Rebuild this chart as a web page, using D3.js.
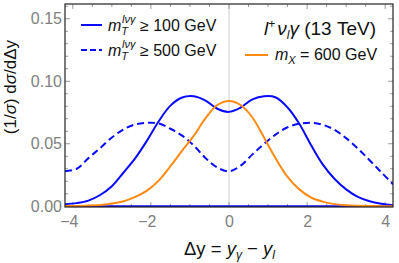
<!DOCTYPE html>
<html>
<head>
<meta charset="utf-8">
<script src="https://cdn.jsdelivr.net/npm/d3@7"></script>
<style>
  body { margin: 0; background: #fff; }
  svg { display: block; font-family: "Liberation Sans", Arial, sans-serif; }
</style>
</head>
<body>
<div class="container"></div>
<script>
// rapidity difference grid and the three normalised distributions
const dy = [-4.2, -3.9, -3.6, -3.3, -3.0, -2.7, -2.4, -2.1, -1.8, -1.5, -1.2, -0.9, -0.6, -0.3,
  0, 0.3, 0.6, 0.9, 1.2, 1.5, 1.8, 2.1, 2.4, 2.7, 3.0, 3.3, 3.6, 3.9, 4.2];
const mt100 = [0.0016, 0.0025, 0.0045, 0.009, 0.016, 0.027, 0.0385, 0.0525, 0.068, 0.0805, 0.087, 0.088, 0.0845, 0.078,
  0.0755, 0.079, 0.0855, 0.088, 0.087, 0.079, 0.066, 0.049, 0.0335, 0.022, 0.0135, 0.0075, 0.004, 0.002, 0.0008];
const mt500 = [0.028, 0.030, 0.0385, 0.0465, 0.055, 0.0615, 0.0655, 0.0668, 0.0662, 0.062, 0.0565, 0.0485, 0.0385, 0.031,
  0.028, 0.0325, 0.0415, 0.050, 0.0575, 0.0632, 0.066, 0.0668, 0.0652, 0.0612, 0.0545, 0.0462, 0.0368, 0.0272, 0.0176];
const mx600 = [0.0002, 0.0003, 0.0006, 0.001, 0.0022, 0.004, 0.0075, 0.0125, 0.0205, 0.032, 0.0445, 0.0565, 0.0705, 0.081,
  0.0843, 0.081, 0.071, 0.0548, 0.038, 0.0235, 0.0135, 0.007, 0.0037, 0.0017, 0.0008, 0.0004, 0.0002, 0.0001, 0];
const xTicks = [-4, -2, 0, 2, 4];
const yTicks = [0, 0.05, 0.10, 0.15];

const margin = {top: 4, bottom: 56, right: 6, left: 65},
width = 399 - margin.left - margin.right,
height = 263 - margin.top - margin.bottom;

const blue = "#0a0aff", orange = "#ff8a10", tickGray = "#808080";

const svg = d3.select(".container")
  .append("svg")
  .attr("width", 399)
  .attr("height", 263);

const group = svg.append("g")
  .attr("transform", `translate(${margin.left},${margin.top})`);

const x_scale = d3.scaleLinear().domain([-4.2, 4.2]).range([0, width]);
const y_scale = d3.scaleLinear().domain([-0.0006, 0.1618]).range([height, 0]);

group.append("clipPath").attr("id", "clip")
  .append("rect").attr("width", width).attr("height", height);

// grid line at zero
group.append("line")
  .attr("x1", x_scale(0)).attr("x2", x_scale(0))
  .attr("y1", 0).attr("y2", height)
  .attr("stroke", "#cfcfcf").attr("stroke-width", 1);

// ticks on all four sides, pointing inward
const xMinor = d3.range(-4, 4.01, 0.5);
const yMinor = d3.range(0, 0.161, 0.01);
const tickG = group.append("g").attr("stroke", "#9a9a9a").attr("stroke-width", 1);
xMinor.forEach(v => {
  const len = xTicks.includes(Math.round(v * 10) / 10) ? 5 : 3;
  const px = x_scale(v);
  tickG.append("line").attr("x1", px).attr("x2", px).attr("y1", height).attr("y2", height - len);
  tickG.append("line").attr("x1", px).attr("x2", px).attr("y1", 0).attr("y2", len);
});
yMinor.forEach((v, i) => {
  const len = i % 5 === 0 ? 5 : 3;
  const py = y_scale(v);
  tickG.append("line").attr("x1", 0).attr("x2", len).attr("y1", py).attr("y2", py);
  tickG.append("line").attr("x1", width).attr("x2", width - len).attr("y1", py).attr("y2", py);
});

const x_axis = d3.axisBottom(x_scale)
  .tickValues(xTicks)
  .tickSize(0)
  .tickPadding(9)
  .tickFormat(d => d < 0 ? "\u2212" + Math.abs(d) : d);

group.append("g")
  .attr("transform", `translate(0,${height})`)
  .call(x_axis)
  .call(g => g.select(".domain").remove())
  .call(g => g.selectAll("text")
    .attr("fill", tickGray)
    .attr("font-size", 16)
    .attr("font-family", "Liberation Sans, Arial, sans-serif")
    .attr("dx", d => d < 0 ? "-0.25em" : 0));

const y_axis = d3.axisLeft(y_scale)
  .tickValues(yTicks)
  .tickSize(0)
  .tickPadding(3)
  .tickFormat(d3.format(".2f"));

group.append("g")
  .call(y_axis)
  .call(g => g.select(".domain").remove())
  .call(g => g.selectAll("text")
    .attr("fill", tickGray)
    .attr("font-size", 16)
    .attr("font-family", "Liberation Sans, Arial, sans-serif"));

// curves
const series = [
  {values: mt500, color: blue, dash: "7,4"},
  {values: mt100, color: blue, dash: null},
  {values: mx600, color: orange, dash: null}
];

const line = d3.line()
  .curve(d3.curveCatmullRom.alpha(0.5))
  .x(d => x_scale(d[0]))
  .y(d => y_scale(d[1]));

const plot = group.append("g").attr("clip-path", "url(#clip)");

plot.append("line")
  .attr("x1", 0).attr("x2", width)
  .attr("y1", y_scale(0)).attr("y2", y_scale(0))
  .attr("stroke", blue).attr("stroke-width", 2);

plot.selectAll("path.curve")
  .data(series)
  .join("path")
  .attr("class", "curve")
  .attr("fill", "none")
  .attr("stroke", d => d.color)
  .attr("stroke-width", 2)
  .attr("stroke-dasharray", d => d.dash)
  .attr("d", d => line(dy.map((v, i) => [v, d.values[i]])));

// frame
group.append("rect")
  .attr("width", width).attr("height", height)
  .attr("fill", "none").attr("stroke", "#222").attr("stroke-width", 1.2);

// legend
const legend = [
  {y: 25, dash: null, cut: "100"},
  {y: 50, dash: "6,3", cut: "500"}
];
legend.forEach(l => {
  svg.append("line")
    .attr("x1", 81).attr("x2", 102).attr("y1", l.y).attr("y2", l.y)
    .attr("stroke", blue).attr("stroke-width", 2)
    .attr("stroke-dasharray", l.dash);
  const t = svg.append("text")
    .attr("x", 108).attr("y", l.y + 6)
    .attr("font-size", 16).attr("fill", "#111");
  t.append("tspan").attr("font-style", "italic").text("m");
  t.append("tspan").attr("font-style", "italic").attr("font-size", 11).attr("dy", 4).text("T");
  t.append("tspan").attr("font-style", "italic").attr("font-size", 11).attr("dx", -6).attr("dy", -12).text("lνγ");
  t.append("tspan").attr("dy", 8).text(" \u2265 " + l.cut + " GeV");
});

svg.append("line")
  .attr("x1", 245).attr("x2", 268).attr("y1", 55).attr("y2", 55)
  .attr("stroke", orange).attr("stroke-width", 2);
const mx = svg.append("text")
  .attr("x", 275).attr("y", 60)
  .attr("font-size", 16).attr("fill", "#111");
mx.append("tspan").attr("font-style", "italic").text("m");
mx.append("tspan").attr("font-style", "italic").attr("font-size", 11).attr("dy", 4).text("X");
mx.append("tspan").attr("dy", -4).text(" = 600 GeV");

const title = svg.append("text")
  .attr("x", 376).attr("y", 35)
  .attr("text-anchor", "end")
  .attr("font-size", 19).attr("fill", "#111");
title.append("tspan").attr("font-style", "italic").text("l");
title.append("tspan").attr("font-size", 12).attr("dy", -7).text("+");
title.append("tspan").attr("font-style", "italic").attr("dy", 7).attr("dx", 2).text("ν");
title.append("tspan").attr("font-style", "italic").attr("font-size", 12).attr("dy", 4).text("l");
title.append("tspan").attr("font-style", "italic").attr("dy", -4).text("γ");
title.append("tspan").text(" (13 TeV)");

// axis titles
const xl = svg.append("text")
  .attr("x", 229.5).attr("y", 255)
  .attr("text-anchor", "middle")
  .attr("font-size", 18.5).attr("fill", "#111");
xl.append("tspan").text("Δy = ");
xl.append("tspan").attr("font-style", "italic").text("y");
xl.append("tspan").attr("font-style", "italic").attr("font-size", 12).attr("dy", 4).text("γ");
xl.append("tspan").attr("dy", -4).text(" \u2212 ");
xl.append("tspan").attr("font-style", "italic").text("y");
xl.append("tspan").attr("font-style", "italic").attr("font-size", 12).attr("dy", 4).text("l");

const yl = svg.append("text")
  .attr("transform", "translate(15.5,87) rotate(-90)")
  .attr("text-anchor", "middle")
  .attr("font-size", 17).attr("fill", "#111");
yl.append("tspan").text("(1/");
yl.append("tspan").attr("font-style", "italic").text("σ");
yl.append("tspan").text(") d");
yl.append("tspan").attr("font-style", "italic").text("σ");
yl.append("tspan").text("/dΔy");
</script>
</body>
</html>
